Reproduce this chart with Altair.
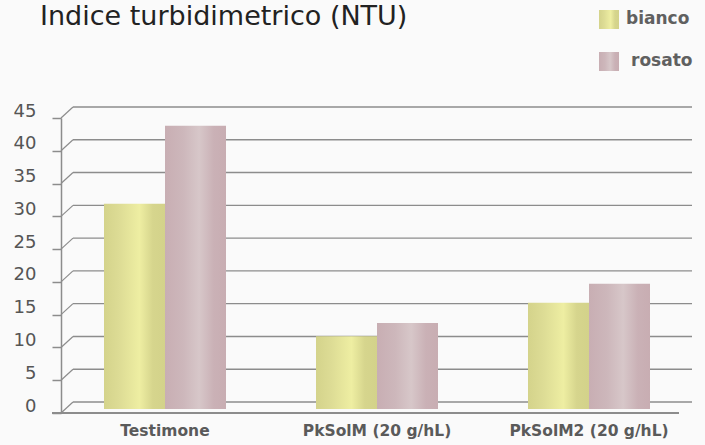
import altair as alt
import pandas as pd

categories = ["Testimone", "PkSolM (20 g/hL)", "PkSolM2 (20 g/hL)"]
bianco = [31.3, 11.1, 16.2]
rosato = [43.2, 13.1, 19.1]
y_ticks = [0, 5, 10, 15, 20, 25, 30, 35, 40, 45]
series = ["bianco", "rosato"]
title_text = "Indice turbidimetrico (NTU)"

FONT = "DejaVu Sans"
GRID = "#8c8c8c"

df_b = pd.DataFrame({"cat": categories, "val": bianco})
df_r = pd.DataFrame({"cat": categories, "val": rosato})
df_t = pd.DataFrame({"val": y_ticks})

grad_b = alt.LinearGradient(
    gradient="linear", x1=0, x2=1, y1=0, y2=0,
    stops=[
        alt.GradientStop(color="#d4d38b", offset=0),
        alt.GradientStop(color="#dddc95", offset=0.25),
        alt.GradientStop(color="#eeeea2", offset=0.58),
        alt.GradientStop(color="#d6d58d", offset=0.8),
        alt.GradientStop(color="#d3d28a", offset=1),
    ],
)
grad_r = alt.LinearGradient(
    gradient="linear", x1=0, x2=1, y1=0, y2=0,
    stops=[
        alt.GradientStop(color="#c8aeb3", offset=0),
        alt.GradientStop(color="#cdb7bb", offset=0.3),
        alt.GradientStop(color="#d7c7c9", offset=0.56),
        alt.GradientStop(color="#cab1b6", offset=0.8),
        alt.GradientStop(color="#c8adb2", offset=1),
    ],
)

yscale = alt.Scale(domain=[0, 45], nice=False)
xscale = alt.Scale(domain=categories, range=[-2, 634], paddingInner=0.42, paddingOuter=0.21)

yaxis = alt.Axis(values=y_ticks, grid=False, domainColor=GRID, domainWidth=1.5,
                 tickColor=GRID, tickWidth=1.5, tickSize=9, labelFont=FONT,
                 labelFontSize=18, labelColor="#555555", labelPadding=16,
                 labelOffset=-7)
xaxis = alt.Axis(domain=False, ticks=False, labelAngle=0, labelFont=FONT,
                 labelFontSize=15.5, labelFontWeight="bold", labelColor="#5a5a5a",
                 labelPadding=10)


def yenc():
    return alt.Y("val:Q", scale=yscale, axis=yaxis, title=None)


def xenc():
    return alt.X("cat:N", sort=categories, scale=xscale, axis=xaxis, title=None)


# back-wall gridlines
grid = alt.Chart(df_t).mark_rule(color=GRID, strokeWidth=1.4, yOffset=-11).encode(
    y=yenc(),
    x=alt.value(12), x2=alt.value(631),
)
# slanted side-wall connectors
slant = alt.Chart(df_t).mark_rule(color=GRID, strokeWidth=1.2, yOffset=0, y2Offset=-11).encode(
    y=yenc(),
    y2="val:Q",
    x=alt.value(0), x2=alt.value(12),
)
# floor front line
floor = alt.Chart(df_t).mark_rule(color=GRID, strokeWidth=2.2).encode(
    x=alt.value(-9), x2=alt.value(618), y=alt.value(295),
)

bars_b = alt.Chart(df_b).mark_bar(color=grad_b, width=61, xOffset=-30.5, yOffset=-4, y2Offset=-4).encode(
    x=xenc(), y=yenc(), y2=alt.datum(0),
)
bars_r = alt.Chart(df_r).mark_bar(color=grad_r, width=61, xOffset=30.5, yOffset=-4, y2Offset=-4).encode(
    x=xenc(), y=yenc(), y2=alt.datum(0),
)

# title
title = alt.Chart(pd.DataFrame({"t": [title_text]})).mark_text(
    font=FONT, fontSize=27, color="#222222", align="left", baseline="alphabetic",
).encode(text="t:N", x=alt.value(-21), y=alt.value(-93))

# manual legend
leg_b_sq = alt.Chart(pd.DataFrame({"s": [series[0]]})).mark_rect(color=grad_b).encode(
    x=alt.value(538), x2=alt.value(558), y=alt.value(-108), y2=alt.value(-89))
leg_r_sq = alt.Chart(pd.DataFrame({"s": [series[1]]})).mark_rect(color=grad_r).encode(
    x=alt.value(538), x2=alt.value(558), y=alt.value(-66), y2=alt.value(-47))
leg_b_tx = alt.Chart(pd.DataFrame({"s": [series[0]]})).mark_text(
    font=FONT, fontSize=17, fontWeight="bold", color="#606060", align="left", baseline="middle",
).encode(text="s:N", x=alt.value(565), y=alt.value(-99))
leg_r_tx = alt.Chart(pd.DataFrame({"s": [series[1]]})).mark_text(
    font=FONT, fontSize=17, fontWeight="bold", color="#606060", align="left", baseline="middle",
).encode(text="s:N", x=alt.value(570), y=alt.value(-57))

chart = alt.layer(
    grid, slant, floor, bars_b, bars_r, title, leg_b_sq, leg_r_sq, leg_b_tx, leg_r_tx
).properties(
    width=629, height=295,
    autosize=alt.AutoSizeParams(type="none"),
    padding={"left": 61, "top": 118, "right": 15, "bottom": 32},
    background="#fafafa",
).configure_view(strokeWidth=0)

chart.save("out.html", embed_options={"renderer": "svg", "actions": False})
